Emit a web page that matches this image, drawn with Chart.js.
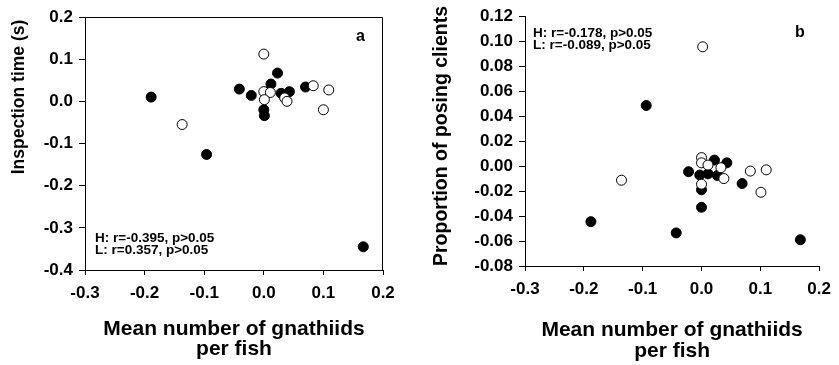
<!DOCTYPE html>
<html><head><meta charset="utf-8">
<script src="https://cdn.jsdelivr.net/npm/chart.js@4.4.0/dist/chart.umd.min.js"></script>
<style>
html,body{margin:0;padding:0;background:#fff;}
#wrap{position:relative;width:839px;height:365px;background:#fff;}
.p{position:absolute;top:0;height:365px;}
</style></head><body>
<div id="wrap">
<div class="p" style="left:0;width:420px"><canvas id="c1"></canvas></div>
<div class="p" style="left:420px;width:419px"><canvas id="c2"></canvas></div>
</div>
<script>
// ---- Panel a: inspection time ----
const aFilledX = [-0.189, -0.096, -0.041, -0.021, 0.000, 0.001, 0.012, 0.023, 0.029, 0.043, 0.070, 0.167];
const aFilledY = [ 0.010, -0.126,  0.029,  0.014, -0.020, -0.034, 0.041, 0.067, 0.019, 0.023, 0.034, -0.345];
const aOpenX   = [-0.137, 0.000, 0.000, 0.011, 0.001, 0.035, 0.039, 0.083, 0.109, 0.100];
const aOpenY   = [-0.055, 0.112, 0.023, 0.021, 0.004, 0.008, 0.000, 0.037, 0.027, -0.020];
const aXTicks  = [-0.3, -0.2, -0.1, 0.0, 0.1, 0.2];
const aYTicks  = [-0.4, -0.3, -0.2, -0.1, 0.0, 0.1, 0.2];
const aStats   = ["H: r=-0.395, p>0.05", "L: r=0.357, p>0.05"];
const aYTitle  = "Inspection time (s)";

// ---- Panel b: proportion of posing clients ----
const bFilledX = [-0.188, -0.094, -0.043, -0.022, -0.003, 0.000, 0.000, 0.011, 0.022, 0.027, 0.043, 0.069, 0.168];
const bFilledY = [-0.0445, 0.0485, -0.0535, -0.0045, -0.0072, -0.019, -0.033, -0.0062, 0.0048, -0.0075, 0.0026, -0.014, -0.059];
const bOpenX   = [-0.136, 0.002, 0.000, 0.000, 0.011, 0.033, 0.038, 0.000, 0.083, 0.110, 0.101];
const bOpenY   = [-0.0113, 0.0955, 0.0068, 0.0026, 0.0008, -0.0013, -0.0100, -0.0145, -0.0040, -0.0030, -0.0210];
const bXTicks  = [-0.3, -0.2, -0.1, 0.0, 0.1, 0.2];
const bYTicks  = [-0.08, -0.06, -0.04, -0.02, 0.00, 0.02, 0.04, 0.06, 0.08, 0.10, 0.12];
const bStats   = ["H: r=-0.178, p>0.05", "L: r=-0.089, p>0.05"];
const bYTitle  = "Proportion of posing clients";

const xTitle = ["Mean number of gnathiids", "per fish"];

const FONT = "'Liberation Sans', Arial, Helvetica, sans-serif";

function pts(xs, ys){ return xs.map((x,i)=>({x:x, y:ys[i]})); }

const decor = {
  id: 'decor',
  afterDraw(chart, args, o){
    const ctx = chart.ctx, a = chart.chartArea;
    ctx.save();
    ctx.fillStyle = '#000';
    ctx.strokeStyle = '#000';
    if (o.box){
      ctx.lineWidth = 1;
      ctx.beginPath();
      ctx.moveTo(Math.round(a.left), Math.round(a.top)+0.5);
      ctx.lineTo(Math.round(a.right)-0.5, Math.round(a.top)+0.5);
      ctx.lineTo(Math.round(a.right)-0.5, Math.round(a.bottom));
      ctx.stroke();
    }
    // stats text
    ctx.font = "bold 13.5px " + FONT;
    ctx.textAlign = 'left';
    ctx.textBaseline = 'alphabetic';
    o.stats.forEach((t,i)=>ctx.fillText(t, o.statsX, o.statsY + i*o.statsGap));
    // panel letter
    ctx.font = "bold 16px " + FONT;
    ctx.fillText(o.letter, o.letterX, o.letterY);
    // x title
    ctx.font = "bold " + o.xTitleSize + "px " + FONT;
    ctx.textAlign = 'center';
    const cx = (a.left + a.right)/2;
    o.xTitle.forEach((t,i)=>ctx.fillText(t, cx, o.xTitleY + i*o.xTitleGap));
    // y title
    ctx.save();
    ctx.translate(o.yTitleX, o.yTitleY);
    ctx.rotate(-Math.PI/2);
    ctx.font = "bold " + o.yTitleSize + "px " + FONT;
    ctx.textAlign = 'center';
    ctx.textBaseline = 'middle';
    ctx.fillText(o.yTitle, 0, 0);
    ctx.restore();
    ctx.restore();
  }
};

function makeChart(id, cfg){
  return new Chart(document.getElementById(id), {
    type: 'scatter',
    data: {
      datasets: [
        { label: 'L', data: pts(cfg.openX, cfg.openY), backgroundColor: '#fff', borderColor: '#000', borderWidth: 1, pointRadius: 5, pointHoverRadius: 5 },
        { label: 'H', data: pts(cfg.filledX, cfg.filledY), backgroundColor: '#000', borderColor: '#000', borderWidth: 1, pointRadius: 5, pointHoverRadius: 5 }
      ]
    },
    options: {
      responsive: true,
      maintainAspectRatio: false,
      animation: false,
      layout: { padding: cfg.padding },
      plugins: {
        legend: { display: false },
        tooltip: { enabled: false },
        decor: cfg.decor
      },
      scales: {
        x: {
          type: 'linear',
          min: cfg.xTicks[0], max: cfg.xTicks[cfg.xTicks.length-1],
          afterFit: s => { s.height = cfg.xAxisH; },
          afterBuildTicks: s => { s.ticks = cfg.xTicks.map(v=>({value:v})); },
          grid: { display: true, drawOnChartArea: false, drawTicks: true, tickLength: 5, tickColor: '#000', tickWidth: 1 },
          border: { display: true, color: '#000', width: 1 },
          ticks: { color: '#000', font: { family: FONT, size: 17, weight: 'bold' }, padding: 8, maxRotation: 0,
                   callback: v => Number(v).toFixed(1) }
        },
        y: {
          type: 'linear',
          min: cfg.yTicks[0], max: cfg.yTicks[cfg.yTicks.length-1],
          afterFit: s => { s.width = cfg.yAxisW; },
          afterBuildTicks: s => { s.ticks = cfg.yTicks.map(v=>({value:v})); },
          grid: { display: true, drawOnChartArea: false, drawTicks: true, tickLength: 6, tickColor: '#000', tickWidth: 1 },
          border: { display: true, color: '#000', width: 1 },
          ticks: { color: '#000', font: { family: FONT, size: 17, weight: 'bold' }, padding: 6,
                   callback: v => Number(v).toFixed(cfg.yDec) }
        }
      }
    },
    plugins: [decor]
  });
}

makeChart('c1', {
  filledX: aFilledX, filledY: aFilledY, openX: aOpenX, openY: aOpenY,
  xTicks: aXTicks, yTicks: aYTicks, yDec: 1,
  padding: { left: 0, top: 17, right: 37, bottom: 0 },
  xAxisH: 95, yAxisW: 85,
  decor: { box: true, stats: aStats, statsX: 95, statsY: 242, statsGap: 11.5,
           letter: 'a', letterX: 356, letterY: 41,
           xTitle: xTitle, xTitleSize: 21, xTitleY: 335, xTitleGap: 20,
           yTitle: aYTitle, yTitleSize: 17.5, yTitleX: 19, yTitleY: 97 }
});

makeChart('c2', {
  filledX: bFilledX, filledY: bFilledY, openX: bOpenX, openY: bOpenY,
  xTicks: bXTicks, yTicks: bYTicks, yDec: 2,
  padding: { left: 0, top: 13, right: 14, bottom: 0 },
  xAxisH: 99, yAxisW: 105,
  decor: { box: false, stats: bStats, statsX: 113, statsY: 37, statsGap: 11.5,
           letter: 'b', letterX: 375, letterY: 37,
           xTitle: xTitle, xTitleSize: 21, xTitleY: 336, xTitleGap: 21,
           yTitle: bYTitle, yTitleSize: 19.5, yTitleX: 22, yTitleY: 136 }
});
</script>
</body></html>
